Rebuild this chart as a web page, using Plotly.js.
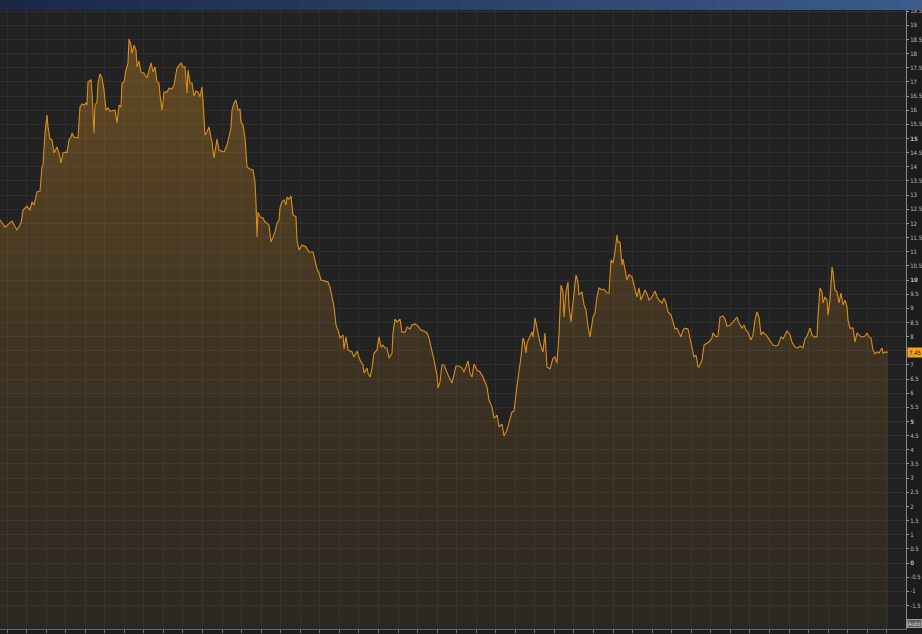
<!DOCTYPE html>
<html>
<head>
<meta charset="utf-8">
<script src="https://cdn.plot.ly/plotly-3.0.1.min.js"></script>
<style>html,body{margin:0;padding:0;background:#1c1c1c;}#chart{width:922px;height:634px;}</style>
</head>
<body>
<div id="chart"></div>
<script>
// Trading-day positions and closing values
const days = [0,5,12,17,21,23,27,30,32,34,37,40,42,43,45,47,48,50,52,54,57,59,61,63,66,67,69,71,72,74,78,80,82,84,86,87,88,91,92,94,95,97,98,100,102,104,106,108,110,113,115,117,119,121,122,124,126,128,129,131,132,134,136,137,139,141,144,147,149,151,153,155,157,159,160,162,164,167,169,172,174,177,181,
183,185,187,188,190,192,194,196,198,200,202,203,205,207,209,211,212,214,217,219,222,224,227,229,231,232,234,236,238,240,241,243,245,247,250,253,255,256,257,258,260,263,265,267,269,271,273,275,277,279,280,282,284,286,287,289,291,293,296,297,299,302,306,309,313,314,317,319,321,325,328,330,332,334,336,338,
340,343,344,346,348,352,354,357,360,363,364,367,368,370,372,374,377,379,381,383,385,387,389,392,393,395,397,400,402,405,407,410,412,415,418,421,424,427,429,432,434,437,438,440,442,444,447,449,452,453,456,459,462,464,466,468,470,472,474,477,480,483,487,489,492,494,497,499,502,504,507,509,512,514,516,518,521,523,524,526,527,529,532,533,535,537,
540,543,545,547,550,553,555,557,559,561,563,564,566,568,569,571,573,576,578,579,582,584,586,588,590,593,595,597,599,602,604,607,609,611,613,615,617,618,620,622,623,625,627,629,632,634,637,639,641,643,645,647,649,652,653,655,657,659,662,664,666,668,671,673,675,677,679,681,683,685,688,690,692,694,696,698,699,702,704,707,709,712,713,716,718,720,723,725,727,
730,733,737,739,742,744,746,748,751,753,755,757,759,761,763,766,768,771,773,776,778,781,783,785,787,790,792,795,798,800,803,805,807,810,812,814,817,818,820,822,823,825,827,828,830,832,833,835,837,839,841,843,845,847,848,850,853,855,857,860,863,865,867,869,871,873,875,877,879,882,883,886,888];

const values = [12.12,11.87,12.08,11.77,12.01,12.47,12.61,12.47,12.76,12.65,13.11,13.14,14.0,14.06,15.19,15.83,15.41,14.98,14.95,14.49,14.70,14.49,14.13,14.49,14.52,14.49,14.95,15.05,15.19,15.05,15.02,16.11,16.22,16.18,16.25,16.18,17.0,17.07,16.64,15.19,16.18,16.29,16.96,17.28,17.14,16.71,16.0,16.08,15.97,16.0,16.0,15.55,16.18,16.11,16.96,17.0,17.42,17.67,18.52,18.30,18.02,18.30,18.13,17.53,17.74,17.35,17.31,17.14,17.42,17.67,17.35,17.53,17.0,16.96,16.54,16.0,16.64,16.64,16.78,16.75,16.89,17.49,17.67,
17.53,17.53,16.61,17.42,16.96,16.96,16.50,16.68,16.64,16.47,16.82,16.36,15.12,15.23,15.41,15.02,14.88,14.31,14.98,14.59,14.56,14.52,14.77,15.05,15.37,16.0,16.25,16.36,16.0,16.04,15.58,15.48,15.02,13.99,13.92,13.89,13.46,12.72,11.52,12.40,12.23,12.19,12.05,12.01,11.94,11.34,11.52,11.70,12.01,12.12,12.54,12.76,12.83,12.65,12.93,12.86,12.97,12.30,12.23,11.41,11.06,11.24,11.17,10.99,10.99,10.81,10.39,10.25,10.0,9.96,9.93,9.75,9.36,9.05,8.41,8.23,
7.95,8.06,7.56,7.99,7.53,7.46,7.28,7.49,7.17,7.0,6.71,6.89,6.71,6.57,6.89,7.42,7.53,7.99,7.63,7.70,7.60,7.60,7.24,7.42,8.13,8.62,8.52,8.62,8.16,8.16,8.34,8.27,8.41,8.45,8.37,8.23,8.20,8.13,7.95,7.53,7.17,6.64,6.18,6.40,7.0,7.0,6.71,6.57,6.36,6.54,6.96,6.96,6.89,6.75,6.93,7.14,6.71,6.57,7.03,6.82,6.75,6.57,6.22,5.76,5.51,5.12,5.23,4.81,4.91,4.49,4.70,4.98,5.34,5.37,6.01,6.54,7.28,7.95,7.88,7.42,7.77,7.92,8.16,7.99,8.66,8.30,
7.77,7.46,8.13,6.93,6.86,7.24,7.28,7.07,8.06,9.82,9.58,8.69,9.58,9.93,9.05,8.52,9.29,10.18,9.93,9.47,9.58,9.12,8.94,8.34,7.99,8.69,8.83,9.40,9.72,9.65,9.68,9.54,9.54,10.71,10.60,10.99,11.59,11.34,11.34,10.53,10.74,10.42,10.0,10.18,10.11,9.82,9.40,9.72,9.29,9.47,9.65,9.51,9.29,9.40,9.47,9.61,9.40,9.29,9.19,9.36,9.19,8.87,8.76,8.52,8.27,8.30,8.16,7.99,8.23,8.30,8.27,7.95,7.60,7.28,7.35,6.93,6.93,7.17,7.70,7.77,7.81,7.95,8.13,7.99,8.02,8.69,8.73,8.62,8.37,
8.40,8.52,8.69,8.48,8.30,8.41,8.23,8.16,7.88,8.06,8.59,8.87,8.69,8.06,8.16,8.06,7.95,7.77,7.70,7.67,7.70,7.99,7.92,8.06,8.20,8.06,7.81,7.63,7.60,7.67,7.60,7.92,8.02,8.30,8.06,7.99,7.99,8.69,9.72,9.58,9.19,9.40,9.29,8.76,9.29,10.46,10.28,9.65,9.58,9.19,9.54,9.12,9.29,9.05,8.59,8.30,8.30,7.81,8.13,8.02,7.99,8.02,8.13,7.99,7.95,7.53,7.39,7.46,7.42,7.60,7.42,7.46,7.45];

const lastValue = 7.45;
const axisMin = -2.33, axisMax = 19.54;

// Y tick labels every 0.5 (the 7.5 label sits under the last-value tag)
const tickVals = [];
const tickText = [];
for (let k = -3; k <= 39; k++) {
  const v = k / 2;
  tickVals.push(v);
  const s = String(v);
  if (v === 7.5) tickText.push('');
  else tickText.push(Number.isInteger(v) && v % 5 === 0 ? '<b>' + s + '</b>' : s);
}

const FONT = 'DejaVu Sans Condensed, Liberation Sans Narrow, sans-serif';

const baseline = {
  x: [days[0], days[days.length - 1]],
  y: [axisMin - 0.1, axisMin - 0.1],
  mode: 'lines', line: {width: 0}, hoverinfo: 'skip', showlegend: false
};

const series = {
  x: days, y: values,
  mode: 'lines',
  line: {color: '#d88e1c', width: 1.1},
  fill: 'tonexty',
  fillgradient: {
    type: 'vertical', start: axisMin, stop: 19,
    colorscale: [[0, 'rgba(210,140,35,0.05)'], [0.5, 'rgba(210,140,35,0.17)'], [1, 'rgba(210,140,35,0.38)']]
  },
  showlegend: false
};

// header gradient (thin stripes)
const N = 40;
const shapes = [];
for (let i = 0; i < N; i++) {
  const t = i / (N - 1);
  const r = Math.round(26 + t * (60 - 26));
  const g = Math.round(40 + t * (90 - 40));
  const b = Math.round(70 + t * (138 - 70));
  shapes.push({
    type: 'rect', xref: 'paper', yref: 'paper', layer: 'above',
    x0: i / N * (922/906), x1: (i + 1) / N * (922/906) + 0.001,
    y0: 1, y1: 1 + 11/619, fillcolor: 'rgb(' + r + ',' + g + ',' + b + ')', line: {width: 0}
  });
}

const layout = {
  width: 922, height: 634,
  margin: {l: 0, r: 16, t: 10, b: 5, pad: 0},
  paper_bgcolor: '#1c1c1c',
  plot_bgcolor: '#222222',
  showlegend: false,
  xaxis: {
    range: [0, 906], tick0: 7, dtick: 19.55,
    showgrid: true, gridcolor: '#2e2e2e', gridwidth: 1,
    ticks: 'outside', ticklen: 3, tickcolor: '#777',
    showticklabels: false, showline: true, linecolor: '#666', zeroline: false, fixedrange: true
  },
  yaxis: {
    side: 'right', range: [axisMin, axisMax],
    tickmode: 'array', tickvals: tickVals, ticktext: tickText,
    showgrid: true, gridcolor: '#2e2e2e', gridwidth: 1,
    ticks: 'outside', ticklen: 2, tickcolor: '#999',
    ticklabelstandoff: 0,
    showline: true, linecolor: '#8a8a8a', zeroline: false,
    tickfont: {family: FONT, size: 6, color: '#bdbdbd'},
    fixedrange: true
  },
  shapes: shapes,
  annotations: [
    {xref: 'paper', x: 1, xanchor: 'left', xshift: 1, yref: 'y', y: lastValue, yanchor: 'middle',
     text: lastValue.toFixed(2), showarrow: false, bgcolor: '#f5a21e', borderpad: 1,
     font: {family: FONT, size: 6, color: '#111'}},
    {xref: 'paper', x: 1, xanchor: 'left', xshift: 1, yref: 'paper', y: 0, yanchor: 'bottom', yshift: 1,
     text: 'Auto', showarrow: false, bgcolor: '#5a5a5a', bordercolor: '#999', borderwidth: 1, borderpad: 0,
     font: {family: FONT, size: 6, color: '#ddd'}}
  ]
};

Plotly.newPlot('chart', [baseline, series], layout, {displayModeBar: false, staticPlot: true});
</script>
</body>
</html>
